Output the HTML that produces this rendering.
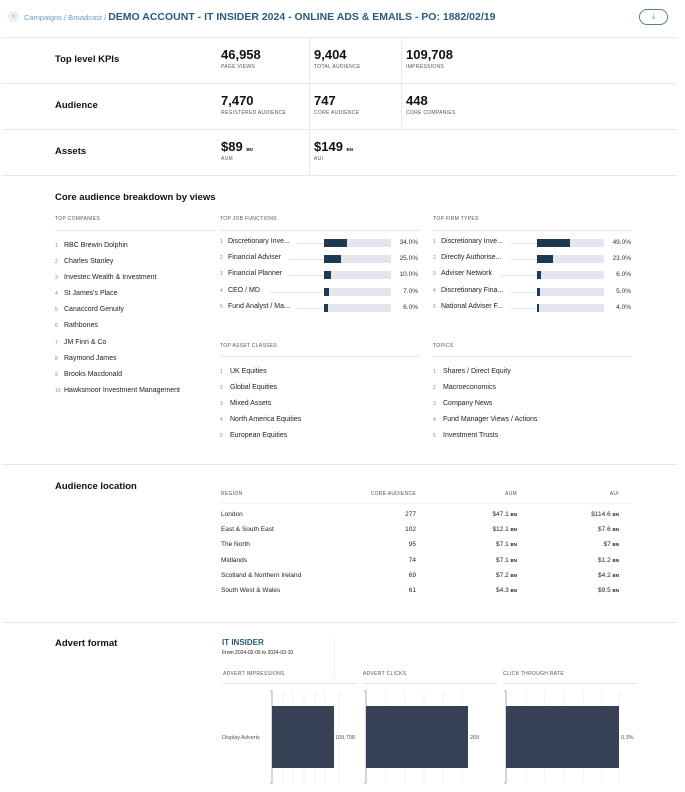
<!DOCTYPE html>
<html><head><meta charset="utf-8"><style>
*{margin:0;padding:0;box-sizing:border-box}
body{width:685px;height:792px;background:#fff;font-family:"Liberation Sans",sans-serif;color:#1a1d2e;position:relative;overflow:hidden}
.a{position:absolute;white-space:nowrap}
.hl{position:absolute;left:2px;width:675px;height:1px;background:#e6e9f0}
.vl{position:absolute;width:1px;background:#e6e9f0}
.sec{font-size:9.5px;font-weight:bold;color:#111}
.big{font-size:13px;font-weight:bold;color:#111}
.cap{font-size:5px;color:#555;letter-spacing:.3px}
.it{font-size:7px;color:#222}
.n{font-size:5px;color:#888}
.trk{position:absolute;height:8px;background:#e3e6ee;width:67px}
.fil{position:absolute;left:0;top:0;height:8px;background:#1e3a4f}
.ln{position:absolute;height:1px;background:#e3e6ee}
.pc{font-size:6.5px;color:#333;text-align:right;width:40px}
.bn{font-size:4.5px;font-weight:bold}
</style></head><body>
<div class="a" style="left:8px;top:11px;width:11px;height:11px;border-radius:50%;background:#e4f0fb;color:#5a8fc0;font-size:7px;text-align:center;line-height:11px">‹</div>
<div class="a" style="left:24px;top:11px;font-size:7.5px;color:#6a9cc8">Campaigns / Broadcast / <span style="color:#2c5a7c;font-weight:bold;font-size:10.5px">DEMO ACCOUNT - IT INSIDER 2024 - ONLINE ADS &amp; EMAILS - PO: 1882/02/19</span></div>
<div class="a" style="left:639px;top:9px;width:29px;height:16px;border:1px solid #5a7d99;border-radius:8px;font-size:7px;text-align:center;line-height:14px;color:#5a7d99">⤓</div>
<div class="hl" style="top:37px"></div>
<div class="hl" style="top:83px"></div>
<div class="hl" style="top:129px"></div>
<div class="hl" style="top:175px"></div>
<div class="vl" style="left:309px;top:37px;height:138px"></div>
<div class="vl" style="left:401px;top:37px;height:92px"></div>
<div class="a sec" style="left:55px;top:54px">Top level KPIs</div>
<div class="a big" style="left:221px;top:47px">46,958</div><div class="a cap" style="left:221px;top:64px">PAGE VIEWS</div>
<div class="a big" style="left:314px;top:47px">9,404</div><div class="a cap" style="left:314px;top:64px">TOTAL AUDIENCE</div>
<div class="a big" style="left:406px;top:47px">109,708</div><div class="a cap" style="left:406px;top:64px">IMPRESSIONS</div>
<div class="a sec" style="left:55px;top:100px">Audience</div>
<div class="a big" style="left:221px;top:93px">7,470</div><div class="a cap" style="left:221px;top:110px">REGISTERED AUDIENCE</div>
<div class="a big" style="left:314px;top:93px">747</div><div class="a cap" style="left:314px;top:110px">CORE AUDIENCE</div>
<div class="a big" style="left:406px;top:93px">448</div><div class="a cap" style="left:406px;top:110px">CORE COMPANIES</div>
<div class="a sec" style="left:55px;top:146px">Assets</div>
<div class="a big" style="left:221px;top:139px">$89 <span class="bn">BN</span></div><div class="a cap" style="left:221px;top:156px">AUM</div>
<div class="a big" style="left:314px;top:139px">$149 <span class="bn">BN</span></div><div class="a cap" style="left:314px;top:156px">AUI</div>
<div class="a sec" style="left:55px;top:192px">Core audience breakdown by views</div>
<div class="a cap" style="left:55px;top:216px">TOP COMPANIES</div>
<div class="a cap" style="left:220px;top:216px">TOP JOB FUNCTIONS</div>
<div class="a cap" style="left:433px;top:216px">TOP FIRM TYPES</div>
<div class="ln" style="left:55px;top:230px;width:160px"></div>
<div class="ln" style="left:220px;top:230px;width:200px"></div>
<div class="ln" style="left:433px;top:230px;width:198px"></div>
<div class="a" style="left:55px;top:238px;line-height:15.1px">
<div class="it"><span class="n" style="display:inline-block;width:9px">1</span>RBC Brewin Dolphin</div>
<div class="it"><span class="n" style="display:inline-block;width:9px">2</span>Charles Stanley</div>
<div class="it"><span class="n" style="display:inline-block;width:9px">3</span>Investec Wealth &amp; Investment</div>
<div class="it"><span class="n" style="display:inline-block;width:9px">4</span>St James's Place</div>
<div class="it"><span class="n" style="display:inline-block;width:9px">5</span>Canaccord Genuity</div>
<div class="it"><span class="n" style="display:inline-block;width:9px">6</span>Rathbones</div>
<div class="it"><span class="n" style="display:inline-block;width:9px">7</span>JM Finn &amp; Co</div>
<div class="it"><span class="n" style="display:inline-block;width:9px">8</span>Raymond James</div>
<div class="it"><span class="n" style="display:inline-block;width:9px">9</span>Brooks Macdonald</div>
<div class="it"><span class="n" style="display:inline-block;width:9px">10</span>Hawksmoor Investment Management</div>
</div>
<div class="a it" style="left:220px;top:238px"><span class="n" style="display:inline-block;width:8px">1</span>Discretionary Inve...</div>
<div class="ln" style="left:298px;top:243px;width:26px"></div><div class="trk" style="left:324px;top:239px"><div class="fil" style="width:23px"></div></div><div class="a pc" style="left:378px;top:239px">34.0%</div>
<div class="a it" style="left:220px;top:254px"><span class="n" style="display:inline-block;width:8px">2</span>Financial Adviser</div>
<div class="ln" style="left:290px;top:259px;width:34px"></div><div class="trk" style="left:324px;top:255px"><div class="fil" style="width:17px"></div></div><div class="a pc" style="left:378px;top:255px">25.0%</div>
<div class="a it" style="left:220px;top:270px"><span class="n" style="display:inline-block;width:8px">3</span>Financial Planner</div>
<div class="ln" style="left:290px;top:275px;width:34px"></div><div class="trk" style="left:324px;top:271px"><div class="fil" style="width:7px"></div></div><div class="a pc" style="left:378px;top:271px">10.0%</div>
<div class="a it" style="left:220px;top:287px"><span class="n" style="display:inline-block;width:8px">4</span>CEO / MD</div>
<div class="ln" style="left:270px;top:292px;width:54px"></div><div class="trk" style="left:324px;top:288px"><div class="fil" style="width:5px"></div></div><div class="a pc" style="left:378px;top:288px">7.0%</div>
<div class="a it" style="left:220px;top:303px"><span class="n" style="display:inline-block;width:8px">5</span>Fund Analyst / Ma...</div>
<div class="ln" style="left:298px;top:308px;width:26px"></div><div class="trk" style="left:324px;top:304px"><div class="fil" style="width:4px"></div></div><div class="a pc" style="left:378px;top:304px">6.0%</div>
<div class="a it" style="left:433px;top:238px"><span class="n" style="display:inline-block;width:8px">1</span>Discretionary Inve...</div>
<div class="ln" style="left:511px;top:243px;width:26px"></div><div class="trk" style="left:537px;top:239px"><div class="fil" style="width:33px"></div></div><div class="a pc" style="left:591px;top:239px">49.0%</div>
<div class="a it" style="left:433px;top:254px"><span class="n" style="display:inline-block;width:8px">2</span>Directly Authorise...</div>
<div class="ln" style="left:511px;top:259px;width:26px"></div><div class="trk" style="left:537px;top:255px"><div class="fil" style="width:16px"></div></div><div class="a pc" style="left:591px;top:255px">23.0%</div>
<div class="a it" style="left:433px;top:270px"><span class="n" style="display:inline-block;width:8px">3</span>Adviser Network</div>
<div class="ln" style="left:500px;top:275px;width:37px"></div><div class="trk" style="left:537px;top:271px"><div class="fil" style="width:4px"></div></div><div class="a pc" style="left:591px;top:271px">6.0%</div>
<div class="a it" style="left:433px;top:287px"><span class="n" style="display:inline-block;width:8px">4</span>Discretionary Fina...</div>
<div class="ln" style="left:511px;top:292px;width:26px"></div><div class="trk" style="left:537px;top:288px"><div class="fil" style="width:3px"></div></div><div class="a pc" style="left:591px;top:288px">5.0%</div>
<div class="a it" style="left:433px;top:303px"><span class="n" style="display:inline-block;width:8px">5</span>National Adviser F...</div>
<div class="ln" style="left:511px;top:308px;width:26px"></div><div class="trk" style="left:537px;top:304px"><div class="fil" style="width:2px"></div></div><div class="a pc" style="left:591px;top:304px">4.0%</div>
<div class="a cap" style="left:220px;top:343px">TOP ASSET CLASSES</div>
<div class="a cap" style="left:433px;top:343px">TOPICS</div>
<div class="ln" style="left:220px;top:356px;width:200px"></div>
<div class="ln" style="left:433px;top:356px;width:198px"></div>
<div class="a" style="left:220px;top:364px;line-height:15.1px">
<div class="it"><span class="n" style="display:inline-block;width:10px">1</span>UK Equities</div>
<div class="it"><span class="n" style="display:inline-block;width:10px">2</span>Global Equities</div>
<div class="it"><span class="n" style="display:inline-block;width:10px">3</span>Mixed Assets</div>
<div class="it"><span class="n" style="display:inline-block;width:10px">4</span>North America Equities</div>
<div class="it"><span class="n" style="display:inline-block;width:10px">5</span>European Equities</div>
</div>
<div class="a" style="left:433px;top:364px;line-height:15.1px">
<div class="it"><span class="n" style="display:inline-block;width:10px">1</span>Shares / Direct Equity</div>
<div class="it"><span class="n" style="display:inline-block;width:10px">2</span>Macroeconomics</div>
<div class="it"><span class="n" style="display:inline-block;width:10px">3</span>Company News</div>
<div class="it"><span class="n" style="display:inline-block;width:10px">4</span>Fund Manager Views / Actions</div>
<div class="it"><span class="n" style="display:inline-block;width:10px">5</span>Investment Trusts</div>
</div>
<div class="hl" style="top:464px"></div>
<div class="a sec" style="left:55px;top:481px">Audience location</div>
<div class="a cap" style="left:221px;top:491px">REGION</div>
<div class="a cap" style="left:330px;top:491px;width:86px;text-align:right">CORE AUDIENCE</div>
<div class="a cap" style="left:450px;top:491px;width:67px;text-align:right">AUM</div>
<div class="a cap" style="left:550px;top:491px;width:69px;text-align:right">AUI</div>
<div class="ln" style="left:220px;top:503px;width:410px;background:#f0f2f6"></div>
<div class="a" style="left:221px;top:507px;line-height:15.2px;font-size:6.5px">
<div>London</div><div>East &amp; South East</div><div>The North</div><div>Midlands</div><div>Scotland &amp; Northern Ireland</div><div>South West &amp; Wales</div></div>
<div class="a" style="left:366px;top:507px;width:50px;text-align:right;line-height:15.2px;font-size:6.5px">
<div>277</div><div>102</div><div>95</div><div>74</div><div>69</div><div>61</div></div>
<div class="a" style="left:457px;top:507px;width:60px;text-align:right;line-height:15.2px;font-size:6.5px">
<div>$47.1 <span class="bn">BN</span></div><div>$12.1 <span class="bn">BN</span></div><div>$7.1 <span class="bn">BN</span></div><div>$7.1 <span class="bn">BN</span></div><div>$7.2 <span class="bn">BN</span></div><div>$4.3 <span class="bn">BN</span></div></div>
<div class="a" style="left:559px;top:507px;width:60px;text-align:right;line-height:15.2px;font-size:6.5px">
<div>$114.6 <span class="bn">BN</span></div><div>$7.6 <span class="bn">BN</span></div><div>$7 <span class="bn">BN</span></div><div>$1.2 <span class="bn">BN</span></div><div>$4.2 <span class="bn">BN</span></div><div>$9.5 <span class="bn">BN</span></div></div>
<div class="hl" style="top:622px"></div>
<div class="a sec" style="left:55px;top:638px">Advert format</div>
<div class="a" style="left:222px;top:638px;font-size:8px;font-weight:bold;color:#2c5a7c">IT INSIDER</div>
<div class="a" style="left:222px;top:650px;font-size:5px;color:#222">From 2024-02-05 to 2024-03-10</div>
<div class="vl" style="left:334px;top:637px;height:42px;background:#eef0f4"></div>
<div class="a cap" style="left:223px;top:671px">ADVERT IMPRESSIONS</div>
<div class="a cap" style="left:363px;top:671px">ADVERT CLICKS</div>
<div class="a cap" style="left:503px;top:671px">CLICK THROUGH RATE</div>
<div class="ln" style="left:223px;top:683px;width:134px"></div>
<div class="ln" style="left:363px;top:683px;width:134px"></div>
<div class="ln" style="left:503px;top:683px;width:134px"></div>
<svg class="a" style="left:0;top:0" width="685" height="792">
<g stroke="#e8eaef" stroke-width="0.7">
<line x1="283" y1="691" x2="283" y2="783"/><line x1="293" y1="691" x2="293" y2="783"/><line x1="304" y1="691" x2="304" y2="783"/><line x1="315" y1="691" x2="315" y2="783"/><line x1="325" y1="691" x2="325" y2="783"/><line x1="339" y1="691" x2="339" y2="783"/>
<line x1="386" y1="691" x2="386" y2="783"/><line x1="405" y1="691" x2="405" y2="783"/><line x1="424" y1="691" x2="424" y2="783"/><line x1="443" y1="691" x2="443" y2="783"/><line x1="462" y1="691" x2="462" y2="783"/>
<line x1="526" y1="691" x2="526" y2="783"/><line x1="545" y1="691" x2="545" y2="783"/><line x1="564" y1="691" x2="564" y2="783"/><line x1="583" y1="691" x2="583" y2="783"/><line x1="602" y1="691" x2="602" y2="783"/><line x1="619" y1="691" x2="619" y2="783"/>
</g>
<g stroke="#999" stroke-width="0.8" fill="none">
<polyline points="270,691 272,691 272,783 270,783"/>
<polyline points="364,691 366,691 366,783 364,783"/>
<polyline points="504,691 506,691 506,783 504,783"/>
</g>
<rect x="272" y="706" width="62" height="62" fill="#374256"/>
<rect x="366" y="706" width="102" height="62" fill="#374256"/>
<rect x="506" y="706" width="113" height="62" fill="#374256"/>
<g font-family="Liberation Sans,sans-serif" font-size="5.5" fill="#555">
<text x="222" y="739">Display Adverts</text>
<text x="335" y="739">109,708</text>
<text x="470" y="739">269</text>
<text x="621" y="739">0.3%</text>
</g>
</svg>
</body></html>
